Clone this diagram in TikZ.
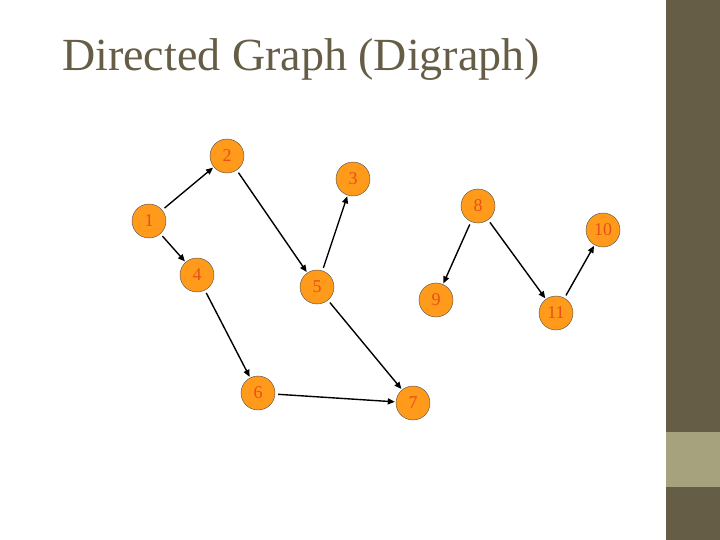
\documentclass[tikz,border=0pt]{standalone}
\usepackage{fontspec}
\setmainfont{Liberation Serif}
\usetikzlibrary{arrows.meta}
\definecolor{olive}{HTML}{655D46}
\definecolor{lolive}{HTML}{A5A27D}
\definecolor{vfill}{HTML}{FF9A1A}
\definecolor{vtext}{HTML}{E8501A}
\tikzset{
 vert/.style={circle,draw=black!70,fill=vfill,minimum size=34pt,inner sep=0pt,font=\fontsize{18}{18}\selectfont,text=vtext},
 edge/.style={-{Triangle[length=7pt,width=6pt]},line width=1.4pt,shorten <=3pt,shorten >=1pt}
}
\begin{document}
\begin{tikzpicture}[x=1pt,y=-1pt]
\useasboundingbox (0,0) rectangle (720,540);
\fill[white] (0,0) rectangle (720,540);
\fill[olive] (666,0) rectangle (720,540);
\fill[lolive] (666,432) rectangle (720,487);
\node[anchor=west,inner sep=0pt,font=\fontsize{46}{46}\selectfont,text=olive] (t) at (62,60) {Directed Graph (Digraph)};
\node[vert] (n1) at (149,221) {1};
\node[vert] (n2) at (227,156) {2};
\node[vert] (n3) at (353,179) {3};
\node[vert] (n4) at (197,275) {4};
\node[vert] (n5) at (317,287) {5};
\node[vert] (n6) at (258,393) {6};
\node[vert] (n7) at (413,403) {7};
\node[vert] (n8) at (478,206) {8};
\node[vert] (n9) at (436,300) {9};
\node[vert] (n10) at (603,230) {10};
\node[vert] (n11) at (556,313) {11};
\draw[edge] (n1) -- (n2);
\draw[edge] (n2) -- (n5);
\draw[edge] (n5) -- (n3);
\draw[edge] (n1) -- (n4);
\draw[edge] (n4) -- (n6);
\draw[edge] (n6) -- (n7);
\draw[edge] (n5) -- (n7);
\draw[edge] (n8) -- (n9);
\draw[edge] (n8) -- (n11);
\draw[edge] (n11) -- (n10);
\end{tikzpicture}
\end{document}
